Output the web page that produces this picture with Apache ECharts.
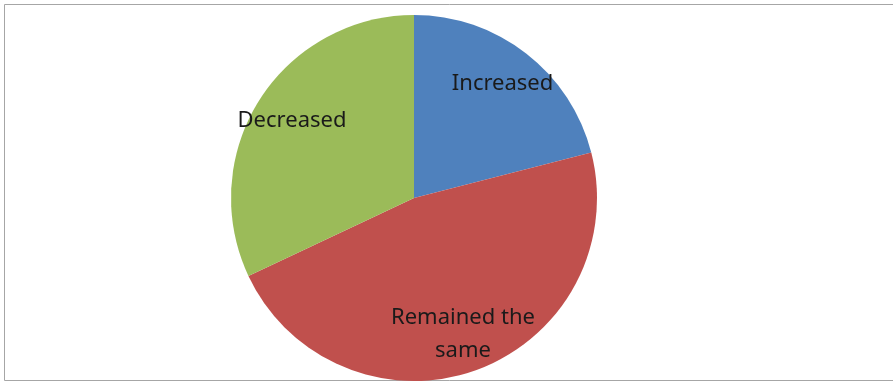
<!DOCTYPE html>
<html>
<head>
<meta charset="utf-8">
<script src="https://cdn.jsdelivr.net/npm/echarts@6/dist/echarts.min.js"></script>
<style>
  html, body { margin: 0; padding: 0; background: #fff; }
  #chart { width: 893px; height: 383px; }
</style>
</head>
<body>
<div id="chart"></div>
<script>
// pie data (share of answers, %)
var categories = ["Increased", "Remained the same", "Decreased"];
var values = [21, 47, 32];
var colors = ["#4F81BD", "#C0504D", "#9BBB59"];

var chart = echarts.init(document.getElementById("chart"));

var sliceData = categories.map(function (name, i) {
  return { name: name, value: values[i], itemStyle: { color: colors[i] } };
});

// transparent copy only used to place the labels further out
var labelData = categories.map(function (name, i) {
  return { name: name, value: values[i] };
});

var option = {
  animation: false,
  graphic: [
    {
      type: "rect",
      shape: { x: 4.5, y: 4.5, width: 900, height: 376 },
      style: { fill: "none", stroke: "#a6a6a6", lineWidth: 1 },
      silent: true
    }
  ],
  series: [
    {
      type: "pie",
      center: [414, 198],
      radius: 183,
      startAngle: 90,
      clockwise: true,
      label: { show: false },
      labelLine: { show: false },
      emphasis: { disabled: true },
      data: sliceData
    },
    {
      type: "pie",
      center: [414, 198],
      radius: [100, 183],
      startAngle: 90,
      clockwise: true,
      silent: true,
      itemStyle: { color: "transparent" },
      label: {
        show: true,
        position: "inside",
        fontFamily: "Noto Sans",
        fontSize: 22,
        color: "#1a1a1a",
        lineHeight: 33,
        formatter: function (p) {
          return p.name === "Remained the same" ? "Remained the\nsame" : p.name;
        }
      },
      labelLine: { show: false },
      emphasis: { disabled: true },
      data: labelData
    }
  ]
};

chart.setOption(option);
</script>
</body>
</html>
